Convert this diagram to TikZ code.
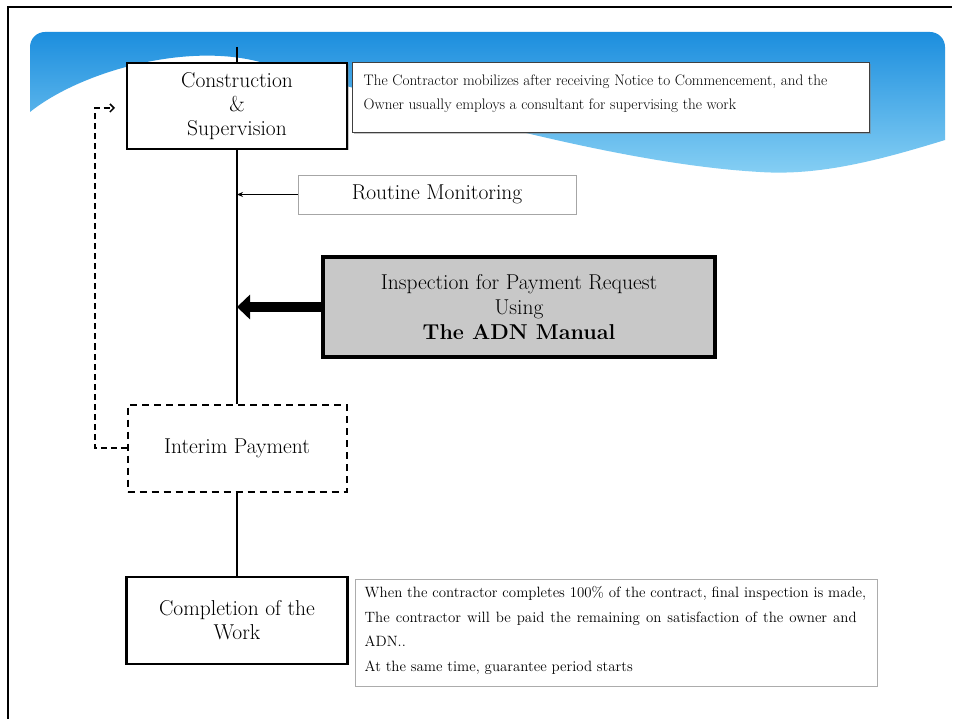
\documentclass[tikz,border=0pt]{standalone}
\usetikzlibrary{arrows.meta,shadows}
\definecolor{bannerTop}{RGB}{28,142,222}
\definecolor{bannerBot}{RGB}{135,208,244}
\definecolor{inspfill}{RGB}{200,200,200}
\begin{document}
\begin{tikzpicture}[x=1pt,y=-1pt,
  bigtxt/.style={font=\fontsize{21.5}{24}\selectfont, align=center, inner sep=0pt},
  mainbox/.style={draw=black, line width=2pt, fill=white, bigtxt},
  notebox/.style={draw=black!75, line width=1pt, fill=white},
  notetxt/.style={font=\fontsize{15.2}{24}\selectfont, align=left, anchor=north west, inner sep=0pt},
  spine/.style={line width=1.8pt, black},
  shade1/.style={drop shadow={shadow xshift=1.5pt, shadow yshift=-1.5pt, opacity=.45}}
]
\useasboundingbox (0,0) rectangle (956,719);
\fill[white] (0,0) rectangle (956,719);
% banner
\path[top color=bannerTop, bottom color=bannerBot]
  (30,112) -- (30,47) arc[start angle=180, end angle=270, radius=15]
  -- (930,32) arc[start angle=270, end angle=360, radius=15]
  -- (945,140) .. controls (880,160) and (820,176) .. (760,172)
  .. controls (620,164) and (440,112) .. (260,62)
  .. controls (185,42) and (80,72) .. (30,112) -- cycle;
% frame
\draw[line width=1.5pt] (8,719) -- (8,7) -- (952,7);

% nodes
\coordinate (top) at (237,47);
\node[mainbox, shade1, minimum width=220pt, minimum height=86pt] (cons) at (237,106) {Construction\\\&\\Supervision};
\node[notebox, shade1, minimum width=517pt, minimum height=70pt] (n1) at (610.5,98) {};
\node[notetxt] at ([xshift=12pt,yshift=-12pt]n1.north west)
  {The Contractor mobilizes after receiving Notice to Commencement, and the\\Owner usually employs a consultant for supervising the work};
\node[draw=gray!70, line width=0.8pt, fill=white, bigtxt, minimum width=278pt, minimum height=39pt] (rout) at (437,194.5) {Routine Monitoring};
\node[draw=black, line width=3.5pt, fill=inspfill, bigtxt, font=\fontsize{21.5}{25}\selectfont, minimum width=392pt, minimum height=100pt] (insp) at (519,307)
  {Inspection for Payment Request\\Using\\\textbf{The ADN Manual}};
\node[draw=black, dash pattern=on 7pt off 5pt, line width=2pt, fill=white, bigtxt, minimum width=219pt, minimum height=87pt] (int) at (237,448) {Interim Payment};
\node[mainbox, line width=2.5pt, minimum width=221pt, minimum height=87pt] (comp) at (237,620.5) {Completion of the\\Work};
\node[draw=gray!65, line width=1pt, fill=white, minimum width=522pt, minimum height=107pt] (n2) at (616,632.5) {};
\node[notetxt, font=\fontsize{14.9}{24.5}\selectfont] at ([xshift=10pt,yshift=-8pt]n2.north west)
  {When the contractor completes 100\% of the contract, final inspection is made,\\
   \makebox[492pt][s]{The contractor will be paid the remaining on satisfaction of the owner and}\\
   ADN..\\
   At the same time, guarantee period starts};

% spine
\draw[spine] (top) -- (cons.north);
\draw[spine] (cons.south) -- (int.north);
\draw[spine] (int.south) -- (comp.north);

% arrows
\draw[line width=1pt, -{Stealth[length=6pt,width=5pt]}] (rout.west) -- (rout.west -| cons.south);
\draw[line width=10pt, -{Triangle[length=13pt,width=24pt]}] (insp.west) -- (insp.west -| cons.south);

% feedback
\coordinate (fbtip) at (115,108);
\coordinate (fbx) at (95,0);
\draw[line width=1.5pt, dash pattern=on 6pt off 4pt, -{Straight Barb[length=4pt,width=8pt]}]
  (int.west) -| (fbx |- fbtip) -- (fbtip);
\end{tikzpicture}
\end{document}
